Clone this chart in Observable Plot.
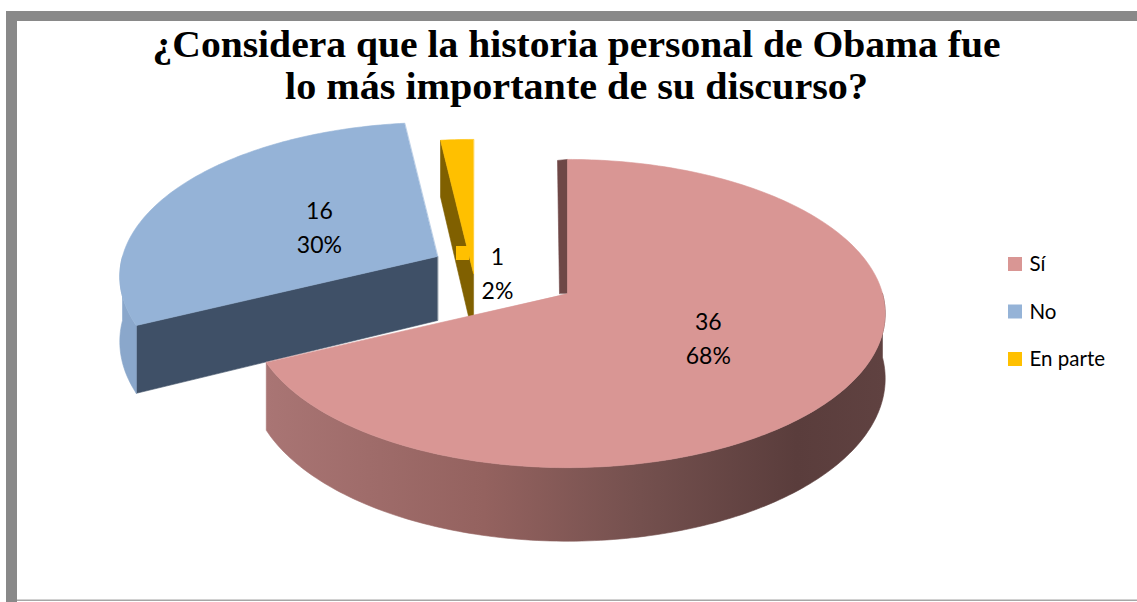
<!DOCTYPE html>
<html><head><meta charset="utf-8">
<script src="https://cdn.jsdelivr.net/npm/d3@7"></script>
<script src="https://cdn.jsdelivr.net/npm/@observablehq/plot@0.6"></script>
<style>html,body{margin:0;padding:0;background:#fff;} #chart svg{display:block;}</style>
</head><body><div id="chart"></div>
<script>
// ---- data ----
const categories = ["Sí", "No", "En parte"];
const counts = [36, 16, 1];
const percentLabels = ["68%", "30%", "2%"];
const titleLines = ["¿Considera que la historia personal de Obama fue", "lo más importante de su discurso?"];

// ---- styles ----
const topColors = ["#D99694", "#95B3D7", "#FFC000"];
const rimWallColors = ["url(#siWall)", "#8aa7cb", "#8a6a00"];
const radialWallColors = ["#6e4746", "#3f5067", "#806000"];

// ---- layout ----
const W = 1137, H = 602;
const proj = {s: 315, t: 151.5, p: 0.13, h: 64};
const vertices = [[567, 293], [437, 256], [473, 273]];
const labelSpec = [{r: 0.51}, {r: 0.44}, {dx: 24, dy: -2}];
const titleWidths = [848, 583];

const total = d3.sum(counts);
function pt(vx, vy, deg, r = 1, drop = 0) {
  const a = deg * Math.PI / 180, u = r * Math.sin(a), v = r * Math.cos(a);
  const k = 1 + proj.p * v;
  return {x: vx + proj.s * u / k, y: vy - proj.t * v / k + drop * proj.h / k};
}
function arc(vx, vy, a0, a1, drop) {
  const n = Math.max(2, Math.ceil(Math.abs(a1 - a0)));
  const out = [];
  for (let i = 0; i <= n; i++) out.push(pt(vx, vy, a0 + (a1 - a0) * i / n, 1, drop));
  return out;
}

let cum = 0;
const slices = categories.map((c, i) => {
  const a0 = cum / total * 360; cum += counts[i];
  const a1 = cum / total * 360;
  return {c, i, a0, a1, v: vertices[i]};
});

// build faces, back to front: No, En parte, Sí
const order = [1, 2, 0];
const polys = [];
for (const i of order) {
  const {a0, a1, v: [vx, vy]} = slices[i];
  if (Math.sin(a0 * Math.PI / 180) < -1e-6) {
    const r = pt(vx, vy, a0), rb = pt(vx, vy, a0, 1, 1);
    polys.push({fill: radialWallColors[i], pts: [{x: vx, y: vy}, r, rb, {x: vx, y: vy + proj.h}]});
  } else if (Math.abs(Math.sin(a0 * Math.PI / 180)) < 1e-6) {
    const r = pt(vx, vy, a0);
    polys.push({fill: radialWallColors[i], pts: [{x: vx, y: vy}, r, {x: r.x - 10, y: r.y + 1}, {x: vx - 8, y: vy}]});
  }
  if (Math.sin(a1 * Math.PI / 180) > 1e-6) {
    const r = pt(vx, vy, a1), rb = pt(vx, vy, a1, 1, 1);
    polys.push({fill: radialWallColors[i], pts: [{x: vx, y: vy}, r, rb, {x: vx, y: vy + proj.h}]});
  }
  const lo = Math.max(a0, 90), hi = Math.min(a1, 270);
  if (hi > lo) {
    const topArc = arc(vx, vy, lo, hi, 0), botArc = arc(vx, vy, lo, hi, 1).reverse();
    polys.push({fill: rimWallColors[i], pts: topArc.concat(botArc)});
  }
  polys.push({fill: topColors[i], pts: [{x: vx, y: vy}].concat(arc(vx, vy, a0, a1, 0))});
}

// data labels
const labels = slices.map(({i, a0, a1, v: [vx, vy]}) => {
  const sp = labelSpec[i];
  const p = sp.r != null ? pt(vx, vy, (a0 + a1) / 2, sp.r) : {x: vx + sp.dx, y: vy + sp.dy};
  return {x: p.x, y: p.y, text: counts[i] + "\n" + percentLabels[i], i};
});
const keyMarks = labels.filter(d => d.i === 2).map(d => ({x1: d.x - 41, x2: d.x - 28, y1: d.y - 25, y2: d.y - 11, i: d.i}));

// legend
const legend = categories.map((c, i) => ({c, i, x: 1008, y: 264 + i * 47.5}));

const marks = [
  Plot.rect([0], {x1: 17, x2: W, y1: 599.5, y2: 601, fill: "#a6a6a6"}),
  Plot.rect([0], {x1: 6, x2: 17, y1: 11, y2: H, fill: "#898989"}),
  Plot.rect([0], {x1: 6, x2: W, y1: 11, y2: 21, fill: "#898989"}),
  Plot.text(titleLines.map((t, j) => ({t, j})), {x: 576, y: d => 44.5 + d.j * 42.5, text: "t", fontSize: 37, fontWeight: "bold", fontFamily: "Liberation Serif", fill: "#000"}),
  ...polys.map(p => Plot.line(p.pts, {x: "x", y: "y", fill: p.fill, stroke: p.fill, strokeWidth: 0.6, curve: "linear-closed"})),
  Plot.rect(keyMarks, {x1: "x1", x2: "x2", y1: "y1", y2: "y2", fill: d => topColors[d.i]}),
  Plot.text(labels, {x: "x", y: "y", text: "text", fontSize: 23, lineHeight: 1.48, fontFamily: "Lato", fill: "#000"}),
  Plot.rect(legend, {x1: d => d.x, x2: d => d.x + 14, y1: d => d.y - 7, y2: d => d.y + 7, fill: d => topColors[d.i]}),
  Plot.text(legend, {x: d => d.x + 21, y: "y", text: "c", textAnchor: "start", fontSize: 20.5, fontFamily: "Lato", fill: "#000"})
];

const svg = Plot.plot({
  width: W, height: H, margin: 0,
  x: {domain: [0, W], range: [0, W], axis: null},
  y: {domain: [0, H], range: [0, H], axis: null},
  style: {background: "#fff"},
  marks
});

d3.select(svg).selectAll("text").each(function() {
  const j = titleLines.indexOf(this.textContent);
  if (j >= 0) d3.select(this).attr("textLength", titleWidths[j]).attr("lengthAdjust", "spacingAndGlyphs");
});

const defs = d3.select(svg).insert("defs", ":first-child");
const g = defs.append("linearGradient").attr("id", "siWall").attr("gradientUnits", "userSpaceOnUse")
  .attr("x1", 265).attr("x2", 890).attr("y1", 0).attr("y2", 0);
[[0, "#a97574"], [0.35, "#94625f"], [0.6, "#74504e"], [0.85, "#5a3d3c"], [1, "#604241"]]
  .forEach(([o, c]) => g.append("stop").attr("offset", o).attr("stop-color", c));

document.getElementById("chart").appendChild(svg);
</script></body></html>
